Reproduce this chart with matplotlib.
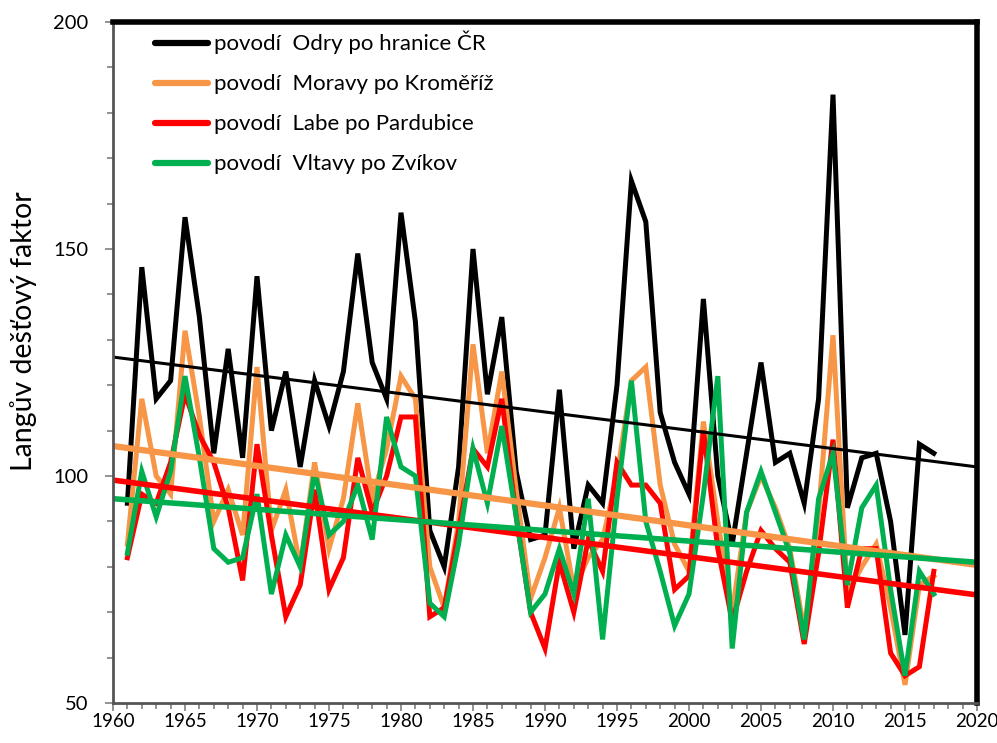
import matplotlib
matplotlib.use('Agg')
import matplotlib.pyplot as plt
from matplotlib.ticker import MultipleLocator

# roky 1961-2017
years = list(range(1961, 2018))

# povodí Odry po hranice ČR
odra = [94, 146, 117, 121, 157, 135, 105, 128, 104, 144,
        110, 123, 102, 121, 111, 123, 149, 125, 117, 158,
        134, 88, 80, 102, 150, 118, 135, 101, 86, 87,
        119, 84, 98, 94, 120, 165, 156, 114, 103, 96,
        139, 100, 85, 105, 125, 103, 105, 94, 117, 184,
        93, 104, 105, 90, 65, 107, 105]
# povodí Moravy po Kroměříž
morava = [85, 117, 100, 96, 132, 113, 90, 97, 87, 124,
          88, 97, 80, 103, 84, 95, 116, 95, 106, 122,
          117, 80, 71, 90, 129, 105, 123, 97, 73, 82,
          93, 75, 82, 86, 100, 121, 124, 98, 85, 79,
          112, 90, 70, 92, 100, 93, 84, 66, 92, 131,
          74, 80, 85, 71, 54, 76, 78]
# povodí Labe po Pardubice
labe = [82, 96, 94, 103, 118, 109, 103, 93, 77, 107,
        87, 69, 76, 97, 75, 82, 104, 92, 100, 113,
        113, 69, 71, 88, 106, 102, 117, 91, 70, 62,
        81, 70, 86, 79, 103, 98, 98, 94, 75, 78,
        110, 84, 68, 79, 88, 84, 81, 63, 83, 108,
        71, 84, 84, 61, 56, 58, 79]
# povodí Vltavy po Zvíkov
vltava = [83, 101, 91, 101, 122, 104, 84, 81, 82, 96,
          74, 87, 80, 101, 87, 90, 98, 86, 113, 102,
          100, 72, 69, 85, 106, 94, 111, 91, 70, 74,
          84, 74, 95, 64, 95, 121, 90, 79, 67, 74,
          96, 122, 62, 92, 101, 92, 83, 64, 95, 105,
          76, 93, 98, 75, 56, 79, 74]

series_labels = ['povodí  Odry po hranice ČR', 'povodí  Moravy po Kroměříž',
                 'povodí  Labe po Pardubice', 'povodí  Vltavy po Zvíkov']
colors = ['#000000', '#F79646', '#FF0000', '#00B050']

# lineární trendy (hodnoty odečtené v letech 1960 a 2020)
trend_years = [1960, 2020]
trend_odra = [126.2, 102.0]
trend_morava = [106.6, 80.4]
trend_labe = [99.1, 73.8]
trend_vltava = [95.0, 81.0]
trend_widths = [2.2, 4.5, 4.0, 4.0]

plt.rcParams['font.family'] = ['Lato', 'DejaVu Sans']

fig = plt.figure(figsize=(9.97, 7.43), dpi=100)
ax = fig.add_axes([113 / 997, 40 / 743, 864 / 997, 681 / 743])

for vals, lab, c in zip([odra, morava, labe, vltava], series_labels, colors):
    ax.plot(years, vals, color=c, lw=3.6, label=lab, solid_joinstyle='miter')

for tr, c, w in zip([trend_odra, trend_morava, trend_labe, trend_vltava], colors, trend_widths):
    ax.plot(trend_years, tr, color=c, lw=w, solid_capstyle='round')

ax.set_xlim(1960, 2020)
ax.set_ylim(50, 200)
ax.xaxis.set_major_locator(MultipleLocator(5))
ax.xaxis.set_minor_locator(MultipleLocator(1))
ax.yaxis.set_major_locator(MultipleLocator(50))
ax.yaxis.set_minor_locator(MultipleLocator(10))
ax.tick_params(axis='both', which='major', direction='out', length=6, width=1.2,
               color='#7f7f7f', labelsize=13.5)
ax.tick_params(axis='y', labelsize=14.5, pad=12)
ax.tick_params(axis='both', which='minor', direction='out', length=4, width=1.2,
               color='#7f7f7f')
ax.tick_params(axis='x', pad=1)

for s in ['top', 'right']:
    ax.spines[s].set_linewidth(4)
    ax.spines[s].set_color('black')
for s in ['left', 'bottom']:
    ax.spines[s].set_linewidth(2)
    ax.spines[s].set_color('#555555')

ax.set_ylabel('Langův dešťový faktor', fontsize=20.5)
ax.yaxis.set_label_coords(-0.088, 0.546)

leg = ax.legend(loc='upper left', bbox_to_anchor=(0.038, 1.0), frameon=False,
                borderaxespad=0, fontsize=16, handlelength=2.4, handletextpad=0.25,
                labelspacing=0.9)
for h in leg.get_lines():
    h.set_linewidth(4.5)
    h.set_solid_capstyle('round')

fig.savefig('out.png', dpi=100)
